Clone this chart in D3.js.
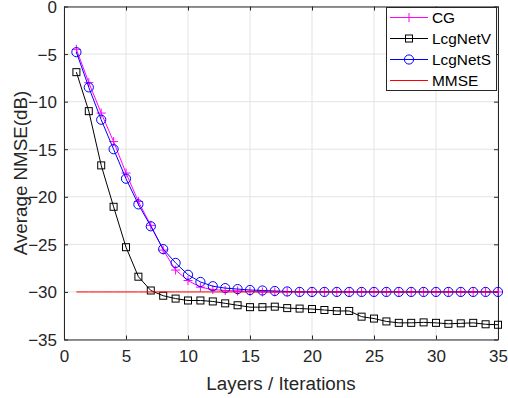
<!DOCTYPE html>
<html><head><meta charset="utf-8">
<script src="https://cdn.jsdelivr.net/npm/d3@7"></script>
<style>body{margin:0;background:#fff}svg{display:block;font-family:"Liberation Sans",Arial,sans-serif}</style>
</head><body><svg id="c" width="508" height="398"></svg>
<script>
const layers = d3.range(1, 36);
const cg = [-4.5,-8.0,-11.2,-14.2,-17.5,-20.5,-23.0,-25.6,-27.7,-28.8,-29.5,-29.75,-29.85,-29.9,-29.95,-30,-30,-30,-30,-30,-30,-30,-30,-30,-30,-30,-30,-30,-30,-30,-30,-30,-30,-30,-30];
const lcgNetV = [-6.9,-11.0,-16.7,-21.05,-25.3,-28.4,-29.85,-30.4,-30.7,-30.9,-30.9,-31.0,-31.2,-31.4,-31.6,-31.6,-31.55,-31.7,-31.75,-31.8,-31.9,-32.0,-32.0,-32.6,-32.8,-33.1,-33.25,-33.25,-33.2,-33.25,-33.35,-33.3,-33.25,-33.4,-33.45];
const lcgNetS = [-4.8,-8.5,-11.9,-15.0,-18.1,-20.8,-23.1,-25.5,-26.95,-28.2,-28.95,-29.4,-29.6,-29.7,-29.8,-29.85,-29.9,-29.95,-30,-30,-30,-30,-30,-30,-30,-30,-30,-30,-30,-30,-30,-30,-30,-30,-30];
const mmse = layers.map(() => -30);
const xTicks = [0,5,10,15,20,25,30,35];
const yTicks = [0,-5,-10,-15,-20,-25,-30,-35];
const seriesNames = ["CG","LcgNetV","LcgNetS","MMSE"];

const svg = d3.select("#c");
const L = 64, R = 498, T = 6.5, B = 339.5;
const x = d3.scaleLinear().domain([0,35]).range([L,R]);
const y = d3.scaleLinear().domain([-35,0]).range([B,T]);
const ink = "#262626";

// grid
svg.append("g").selectAll("line").data(xTicks).join("line")
  .attr("x1",d=>x(d)).attr("x2",d=>x(d)).attr("y1",T).attr("y2",B)
  .attr("stroke","#e3e3e3").attr("stroke-width",1);
svg.append("g").selectAll("line").data(yTicks).join("line")
  .attr("y1",d=>y(d)).attr("y2",d=>y(d)).attr("x1",L).attr("x2",R)
  .attr("stroke","#e3e3e3").attr("stroke-width",1);

// axes
const xa = svg.append("g").attr("transform",`translate(0,${B})`)
  .call(d3.axisBottom(x).tickValues(xTicks).tickSizeInner(-4).tickSizeOuter(0).tickPadding(10));
const ya = svg.append("g").attr("transform",`translate(${L},0)`)
  .call(d3.axisLeft(y).tickValues(yTicks).tickSizeInner(-4).tickSizeOuter(0).tickPadding(7));
const xt = svg.append("g").attr("transform",`translate(0,${T})`)
  .call(d3.axisTop(x).tickValues(xTicks).tickSizeInner(-4).tickSizeOuter(0).tickFormat(""));
const yr = svg.append("g").attr("transform",`translate(${R},0)`)
  .call(d3.axisRight(y).tickValues(yTicks).tickSizeInner(-4).tickSizeOuter(0).tickFormat(""));
[xa,ya,xt,yr].forEach(g=>{
  g.selectAll("path,line").attr("stroke",ink).attr("stroke-width",1);
  g.selectAll("text").attr("fill",ink).attr("font-size",17).attr("font-family","Liberation Sans, Arial, sans-serif");
});
ya.selectAll("text").attr("dy","0.35em");

const line = d3.line().x((d,i)=>x(layers[i])).y(d=>y(d));

function drawSeries(data,color,marker){
  svg.append("path").datum(data).attr("d",line).attr("fill","none").attr("stroke",color).attr("stroke-width",1);
  const g = svg.append("g");
  data.forEach((v,i)=>{
    drawMarker(g,marker,x(layers[i]),y(v),color);
  });
}
function drawMarker(g,marker,cx,cy,color){
  if(marker==="plus"){
    g.append("path").attr("d",`M${cx-4.5},${cy}H${cx+4.5}M${cx},${cy-4.5}V${cy+4.5}`).attr("stroke",color).attr("stroke-width",1);
  } else if(marker==="square"){
    g.append("rect").attr("x",cx-3.5).attr("y",cy-3.5).attr("width",7).attr("height",7).attr("fill","none").attr("stroke",color).attr("stroke-width",1);
  } else if(marker==="circle"){
    g.append("circle").attr("cx",cx).attr("cy",cy).attr("r",4.6).attr("fill","none").attr("stroke",color).attr("stroke-width",1);
  }
}
const colors = ["#ff00ff","#000000","#0000ff","#ff0000"];
const markers = ["plus","square","circle","none"];
drawSeries(cg,colors[0],markers[0]);
drawSeries(lcgNetV,colors[1],markers[1]);
drawSeries(lcgNetS,colors[2],markers[2]);
drawSeries(mmse,colors[3],markers[3]);

// axis titles
svg.append("text").attr("x",(L+R)/2).attr("y",390).attr("text-anchor","middle")
  .attr("font-size",18.8).attr("fill",ink).text("Layers / Iterations");
svg.append("text").attr("transform",`translate(27,${(T+B)/2}) rotate(-90)`).attr("text-anchor","middle")
  .attr("font-size",18.8).attr("fill",ink).text("Average NMSE(dB)");

// legend
const lg = svg.append("g");
lg.append("rect").attr("x",386.5).attr("y",7.5).attr("width",110).attr("height",83)
  .attr("fill","#fff").attr("stroke",ink).attr("stroke-width",1);
seriesNames.forEach((n,i)=>{
  const ly = 17.5 + i*21;
  lg.append("line").attr("x1",390).attr("x2",428).attr("y1",ly).attr("y2",ly).attr("stroke",colors[i]).attr("stroke-width",1);
  drawMarker(lg,markers[i],409,ly,colors[i]);
  lg.append("text").attr("x",432).attr("y",ly).attr("dy","0.36em").attr("font-size",15.4).attr("fill","#000").text(n);
});
</script></body></html>
